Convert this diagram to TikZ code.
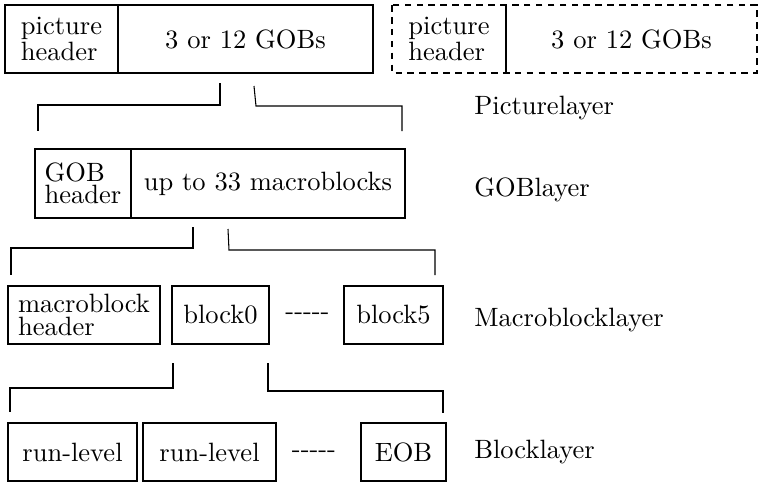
\documentclass[tikz,border=0pt]{standalone}
\usetikzlibrary{positioning}

\begin{document}
\begin{tikzpicture}[
    x=0.01326cm, y=-0.01326cm,
    box/.style={draw, inner sep=0pt, outer sep=0pt, text centered},
    hdr/.style={box, align=left, font=\fontsize{10}{8.5}\selectfont},
    layer/.style={anchor=west}
]
    \useasboundingbox (0,0) rectangle (760,482);

    % Picture layer
    \node[hdr, minimum width=1.498cm, minimum height=0.902cm] (ph1) at (61.5,39) {picture\\header};
    \node[box, minimum width=3.381cm, minimum height=0.902cm, right=0pt of ph1] (gobs1) {3 or 12 GOBs};
    \node[hdr, draw=none, minimum width=1.512cm, minimum height=0.902cm] (ph2) at (449,39) {picture\\header};
    \node[box, draw=none, minimum width=3.328cm, minimum height=0.902cm, right=0pt of ph2] (gobs2) {3 or 12 GOBs};
    \draw[dash pattern=on 2.5pt off 2pt] (ph2.north west) rectangle (gobs2.south east);
    \draw (ph2.north east) -- (ph2.south east);
    \node[layer] (lpic) at (465,108) {Picturelayer};

    % Brackets
    \coordinate (b1a) at (220,83);
    \coordinate (b1b) at (38,131);
    \coordinate (b1c) at (254,86);
    \coordinate (b1d) at (402,131);
    \draw (b1a) -- ++(0,22) -| (b1b);
    \draw (b1c) -- ++(2,20) -| (b1d);

    % GOB layer
    \node[hdr, minimum width=1.273cm, minimum height=0.915cm] (gh) at (83,183.5) {GOB\\header};
    \node[box, minimum width=3.633cm, minimum height=0.915cm, right=0pt of gh] (mbs) {up to 33 macroblocks};
    \node[layer] (lgob) at (465,190) {GOBlayer};

    % Brackets
    \coordinate (b2a) at (193,227);
    \coordinate (b2b) at (11,275);
    \coordinate (b2c) at (228,229);
    \coordinate (b2d) at (435,275);
    \draw (b2a) -- ++(0,21) -| (b2b);
    \draw (b2c) -- ++(1,21) -| (b2d);

    % Macroblock layer
    \node[hdr, minimum width=2.016cm, minimum height=0.769cm] (mh) at (84,315) {macroblock\\header};
    \node[box, minimum width=1.286cm, minimum height=0.769cm] (blk0) at (220.5,315) {block0};
    \node (dots1) at (307.5,316) {-{}-{}-{}-{}-};
    \node[box, minimum width=1.313cm, minimum height=0.769cm] (blk5) at (393.5,315) {block5};
    \node[layer] (lmb) at (465,320) {Macroblocklayer};

    % Brackets
    \coordinate (b3a) at (173,363);
    \coordinate (b3b) at (10,412);
    \coordinate (b3c) at (268,363);
    \coordinate (b3d) at (443,413);
    \draw (b3a) -- ++(0,25) -| (b3b);
    \draw (b3c) -- ++(0,28) -| (b3d);

    % Block layer
    \node[box, minimum width=1.711cm, minimum height=0.769cm] (rl1) at (72.5,452) {run-level};
    \node[box, minimum width=1.764cm, minimum height=0.769cm] (rl2) at (209.5,452) {run-level};
    \node (dots2) at (314,454) {-{}-{}-{}-{}-};
    \node[box, minimum width=1.127cm, minimum height=0.769cm] (eob) at (403.5,452) {EOB};
    \node[layer] (lblk) at (465,452) {Blocklayer};
\end{tikzpicture}
\end{document}
